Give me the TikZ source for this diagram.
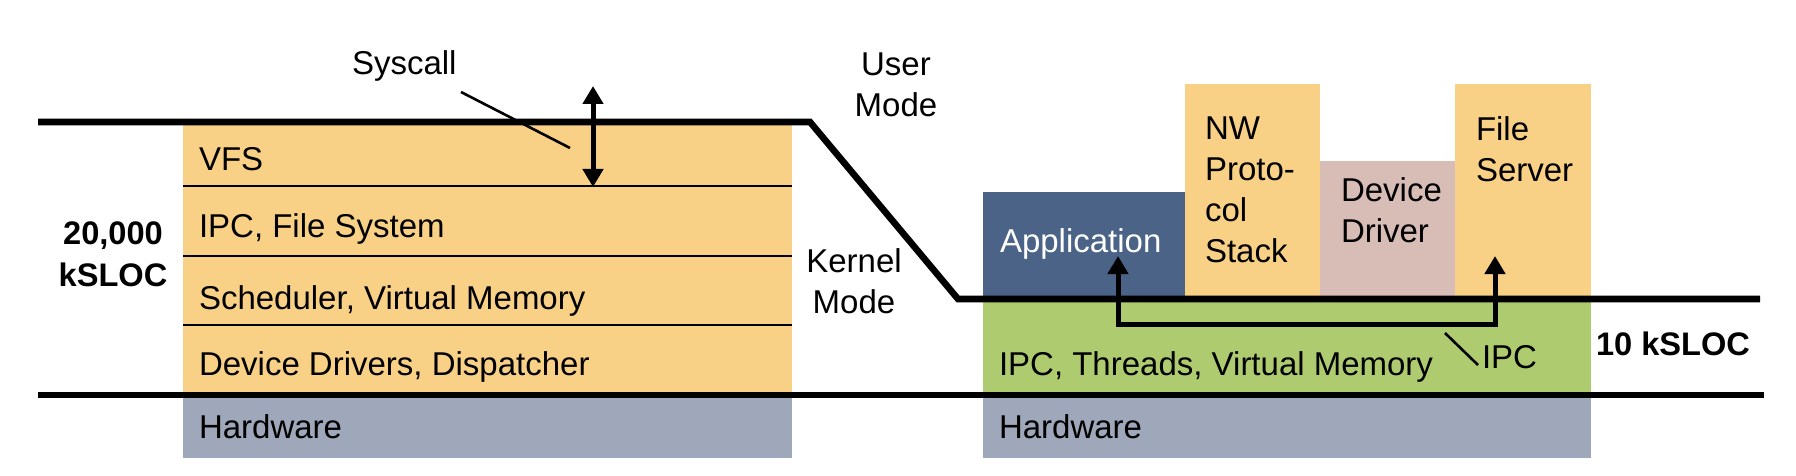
\documentclass[tikz,border=0pt]{standalone}
\usepackage{fontspec}
\setmainfont{Liberation Sans}
\usetikzlibrary{arrows.meta}
\definecolor{korange}{HTML}{F8D186}
\definecolor{hwgrey}{HTML}{9EA8BA}
\definecolor{appblue}{HTML}{4A6387}
\definecolor{ddpink}{HTML}{D8BDB7}
\definecolor{ukgreen}{HTML}{AECB6F}
\begin{document}
\begin{tikzpicture}[x=0.5pt,y=-0.5pt,
  blk/.style={draw=none, inner sep=0pt, outer sep=0pt, anchor=north west},
  txt/.style={inner sep=0pt, outer sep=0pt, font=\fontsize{16.5}{20.5}\selectfont},
  lbl/.style={txt, anchor=base west},
  btxt/.style={txt, font=\fontsize{16.3}{21}\selectfont\bfseries},
  modeline/.style={line width=3.3pt, line join=miter},
  sepline/.style={line width=1.1pt},
  leader/.style={line width=1.3pt},
  arr/.style={line width=2.5pt, line join=miter},
  tip/.tip={Triangle[width=10pt,length=9pt]}
]
\useasboundingbox (0,0) rectangle (1796,476);

% ---------- left: monolithic kernel ----------
\node[blk, fill=korange, minimum width=304.5pt, minimum height=136.5pt] (kstack) at (183,122) {};
\node[blk, fill=hwgrey, minimum width=304.5pt, minimum height=31.5pt] (lhw) at (183,395) {};

\coordinate (s1a) at (183,186); \coordinate (s1b) at (792,186);
\coordinate (s2a) at (183,256); \coordinate (s2b) at (792,256);
\coordinate (s3a) at (183,325); \coordinate (s3b) at (792,325);
\draw[sepline] (s1a) -- (s1b);
\draw[sepline] (s2a) -- (s2b);
\draw[sepline] (s3a) -- (s3b);

\node[lbl] (vfs) at (199,170) {VFS};
\node[lbl] (ipcfs) at (199,237) {IPC, File System};
\node[lbl] (sched) at (199,309) {Scheduler, Virtual Memory};
\node[lbl] (drv) at (199,375) {Device Drivers, Dispatcher};
\node[lbl] (lhwt) at (199,438) {Hardware};

\node[btxt, anchor=north, align=center] (big) at (113,222) {20,000\\kSLOC};

% ---------- right: microkernel ----------
\node[blk, fill=appblue, minimum width=101pt, minimum height=53pt] (app) at (983,192) {};
\node[blk, fill=korange, minimum width=67.5pt, minimum height=107pt] (nw) at (1185,84) {};
\node[blk, fill=ddpink, minimum width=67.5pt, minimum height=68.5pt] (dd) at (1320,161) {};
\node[blk, fill=korange, minimum width=68pt, minimum height=107pt] (fs) at (1455,84) {};
\node[blk, fill=ukgreen, minimum width=304pt, minimum height=48.5pt] (micro) at (983,298) {};
\node[blk, fill=hwgrey, minimum width=304pt, minimum height=31.5pt] (rhw) at (983,395) {};

\node[lbl, text=white] (appt) at (1000,253) {Application};
\node[txt, anchor=north west, align=left] (nwt) at (1205,117) {NW\\Proto-\\col\\Stack};
\node[txt, anchor=north west, align=left] (ddt) at (1341,178) {Device\\Driver};
\node[txt, anchor=north west, align=left] (fst) at (1476,117) {File\\Server};
\node[lbl] (microt) at (999,375) {IPC, Threads, Virtual Memory};
\node[lbl] (rhwt) at (999,438) {Hardware};
\node[btxt, anchor=base west] (small) at (1596,355) {10 kSLOC};

% ---------- mode boundary lines ----------
\coordinate (b0) at (38,122);
\coordinate (b1) at (810,122);
\coordinate (b2) at (958,299);
\coordinate (b3) at (1760,299);
\draw[modeline] (b0) -- (b1) -- (b2) -- (b3);
\coordinate (h0) at (38,395);
\coordinate (h1) at (1764,395);
\draw[modeline] (h0) -- (h1);

\node[txt, anchor=north, align=center] (user) at (896,53) {User\\Mode};
\node[txt, anchor=north, align=center] (kern) at (854,249) {Kernel\\Mode};

% ---------- syscall ----------
\node[lbl] (syscall) at (352,75) {Syscall};
\coordinate (scA) at (461,92);
\coordinate (scB) at (570,148);
\draw[leader] (scA) -- (scB);
\coordinate (scTop) at (593,86);
\coordinate (scBot) at (593,187);
\draw[arr, tip-tip] (scTop) -- (scBot);

% ---------- IPC ----------
\coordinate (ipcA) at (1118,256);
\coordinate (ipcC) at (1118,324);
\coordinate (ipcD) at (1495,324);
\coordinate (ipcB) at (1495,256);
\draw[arr, tip-tip] (ipcA) -- (ipcC) -- (ipcD) -- (ipcB);
\node[lbl] (ipct) at (1482,368) {IPC};
\coordinate (ipL1) at (1445,333);
\coordinate (ipL2) at (1478,365);
\draw[leader] (ipL1) -- (ipL2);
\end{tikzpicture}
\end{document}
